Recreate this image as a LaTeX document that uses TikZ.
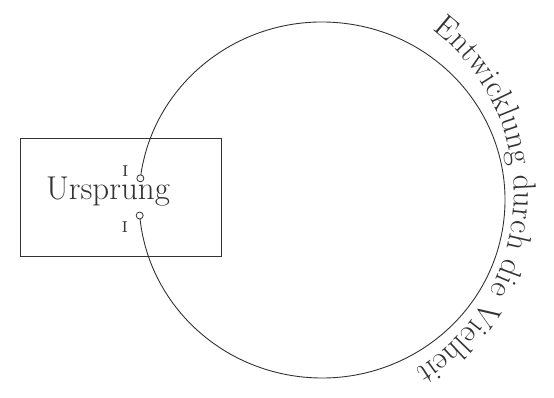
\documentclass[tikz,border=0pt]{standalone}
\usepackage{tikz}
\usetikzlibrary{calc,positioning,decorations.text}

\begin{document}
\begin{tikzpicture}[x=1pt, y=1pt]
  % Origin and the cycle through multiplicity
  \tikzstyle{frame} = [rectangle, draw=black!80, line width=0.9pt, minimum width=201pt, minimum height=118pt, inner sep=0pt]
  \tikzstyle{port} = [circle, draw=black!80, fill=white, line width=0.8pt, minimum size=7pt, inner sep=0pt]
  \tikzstyle{numeral} = [font=\fontsize{21}{24}\selectfont, text=black!80, inner sep=0pt]
  \tikzstyle{cycle} = [draw=black!80, line width=0.9pt]
  \useasboundingbox (0,0) rectangle (554,398);

  \coordinate (ctr) at (322,198);
  \coordinate (textctr) at (308,204);

  % Box of the origin
  \node[frame] (box) at (120.5,201) {};
  \node[anchor=base, font=\fontsize{33}{38}\selectfont, text=black!80] (origin) at (108,198) {Ursprung};

  % Big cycle, open at the origin
  \coordinate (start) at ($(ctr)+(173:183 and 178)$);
  \coordinate (stop) at ($(ctr)+(185:183 and 178)$);
  \draw[cycle] (start) arc[start angle=173, end angle=-175, x radius=183, y radius=178];
  \node[port] (out) at (start) {};
  \node[port] (in) at (stop) {};
  \node[numeral] (one) at ($(out)+(-15,7)$) {\textsc{i}};
  \node[numeral] (two) at ($(in)+(-15,-12)$) {\textsc{i}};

  % Curved label
  \path[decorate, decoration={text along path, text align=center,
      text={|\fontsize{32}{38}\selectfont\color{black!80}|Entwicklung durch die Vielheit}}]
    (textctr) ++(56:206) arc[start angle=56, end angle=-62, radius=206];
\end{tikzpicture}
\end{document}
